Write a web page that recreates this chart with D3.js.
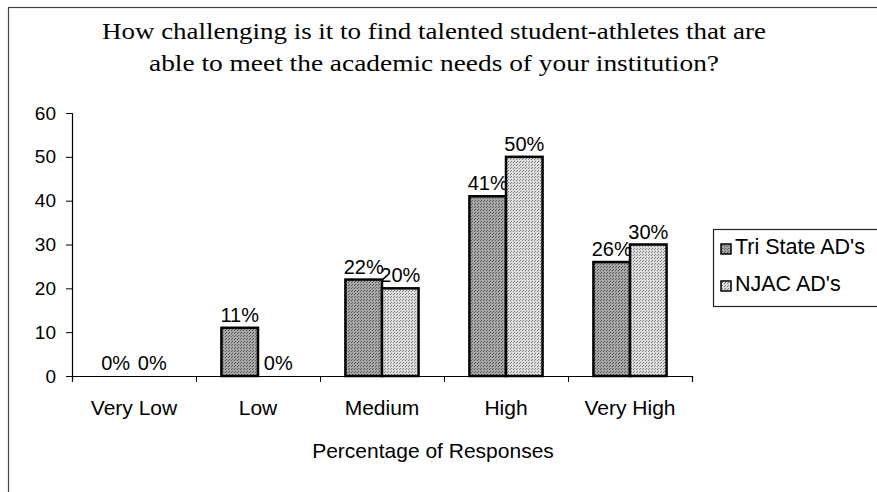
<!DOCTYPE html>
<html>
<head>
<meta charset="utf-8">
<script src="https://cdnjs.cloudflare.com/ajax/libs/d3/7.8.5/d3.min.js"></script>
<style>
  body { margin: 0; background: #fff; }
  svg { display: block; }
</style>
</head>
<body>
<div class="board"></div>
<script>
var W = 877, H = 492
var margin = { top: 113, right: 185, bottom: 116, left: 72 }

const categories = ["Very Low", "Low", "Medium", "High", "Very High"]
const seriesNames = ["Tri State AD's", "NJAC AD's"]
const triState = [0, 11, 22, 41, 26]
const njac = [0, 0, 20, 50, 30]
const yTicks = [0, 10, 20, 30, 40, 50, 60]

const titleLines = [
    "How challenging is it to find talented student-athletes that are",
    "able to meet the academic needs of your institution?"
]
const titleWidths = [664, 570]

const SANS = "Liberation Sans, Arial, sans-serif"

var svg = d3.select(".board")
    .append("svg")
    .attr("width", W)
    .attr("height", H)

// dotted fills, like the halftone in the scan
var defs = svg.append("defs")
function dotPattern(id, bg, dot) {
    let p = defs.append("pattern")
        .attr("id", id)
        .attr("width", 3).attr("height", 3)
        .attr("patternUnits", "userSpaceOnUse")
    p.append("rect").attr("width", 3).attr("height", 3).attr("fill", bg)
    p.append("rect").attr("x", 0).attr("y", 0).attr("width", 1).attr("height", 1).attr("fill", dot)
    p.append("rect").attr("x", 1).attr("y", 2).attr("width", 1).attr("height", 1).attr("fill", dot)
}
dotPattern("darkDots", "#a6a6a6", "#5a5a5a")
dotPattern("lightDots", "#dcdcdc", "#808080")
const fills = ["url(#darkDots)", "url(#lightDots)"]

// outer frame (runs off the right and bottom edges)
svg.append("rect")
    .attr("x", 8.5).attr("y", 7.5)
    .attr("width", W + 20).attr("height", H + 20)
    .attr("fill", "none")
    .attr("stroke", "#444")
    .attr("stroke-width", 1.2)

svg.append("g").selectAll("text")
    .data(titleLines)
    .enter()
    .append("text")
    .attr("x", 434)
    .attr("y", (d, i) => 39 + i * 32)
    .attr("text-anchor", "middle")
    .attr("font-family", "Liberation Serif, Times New Roman, serif")
    .attr("font-size", 23.5)
    .attr("textLength", (d, i) => titleWidths[i])
    .attr("lengthAdjust", "spacingAndGlyphs")
    .text(d => d)

let x0 = d3.scaleBand()
    .domain(categories)
    .range([margin.left, W - margin.right])
    .paddingInner(0.41)
    .paddingOuter(0.205)

let x1 = d3.scaleBand()
    .domain([0, 1])
    .range([0, x0.bandwidth()])

let y = d3.scaleLinear()
    .domain([0, 60])
    .range([H - margin.bottom, margin.top])

// axes
let yAxis = svg.append("g")
    .attr("transform", `translate(${margin.left},0)`)
    .call(d3.axisLeft(y).tickValues(yTicks).tickSize(6).tickPadding(10))
yAxis.selectAll("text")
    .attr("font-family", SANS)
    .attr("font-size", 19)
    .attr("fill", "#000")

let xAxisScale = d3.scaleLinear().domain([0, categories.length]).range([margin.left, W - margin.right])
svg.append("g")
    .attr("transform", `translate(0,${y(0)})`)
    .call(d3.axisBottom(xAxisScale).ticks(5).tickSize(6).tickFormat(""))
svg.selectAll(".domain").attr("stroke", "#000").attr("stroke-width", 1.2)

svg.append("g").selectAll("text")
    .data(categories)
    .enter()
    .append("text")
    .attr("x", d => x0(d) + x0.bandwidth() / 2)
    .attr("y", y(0) + 39)
    .attr("text-anchor", "middle")
    .attr("font-family", SANS)
    .attr("font-size", 21)
    .text(d => d)

svg.append("text")
    .attr("x", 433)
    .attr("y", y(0) + 82)
    .attr("text-anchor", "middle")
    .attr("font-family", SANS)
    .attr("font-size", 21)
    .text("Percentage of Responses")

// bars
let series = [triState, njac]
series.forEach((values, s) => {
    let g = svg.append("g")
    g.selectAll("rect")
        .data(values.map((v, i) => ({ cat: categories[i], v: v })).filter(d => d.v > 0))
        .enter()
        .append("rect")
        .attr("x", d => x0(d.cat) + x1(s))
        .attr("y", d => y(d.v))
        .attr("width", x1.bandwidth())
        .attr("height", d => y(0) - y(d.v))
        .attr("fill", fills[s])
        .attr("stroke", "#000")
        .attr("stroke-width", 2.5)

    g.selectAll("text")
        .data(values)
        .enter()
        .append("text")
        .attr("x", (d, i) => x0(categories[i]) + x1(s) + x1.bandwidth() / 2 + (d == 0 && s == 1 && i > 0 ? 2 : 0))
        .attr("y", d => y(d) - 6)
        .attr("text-anchor", "middle")
        .attr("font-family", SANS)
        .attr("font-size", 20)
        .text(d => d + "%")
})

// legend
let legend = svg.append("g")
legend.append("rect")
    .attr("x", 713.5).attr("y", 229.5)
    .attr("width", 180).attr("height", 77)
    .attr("fill", "none")
    .attr("stroke", "#222")
    .attr("stroke-width", 1.2)

let items = legend.selectAll(".item")
    .data(seriesNames)
    .enter()
    .append("g")
    .attr("transform", (d, i) => `translate(721, ${249 + i * 37})`)
items.append("rect")
    .attr("x", 0).attr("y", -5)
    .attr("width", 10).attr("height", 10)
    .attr("fill", (d, i) => fills[i])
    .attr("stroke", "#000")
    .attr("stroke-width", 1.5)
items.append("text")
    .attr("x", 14)
    .attr("y", 5)
    .attr("font-family", SANS)
    .attr("font-size", 21.5)
    .text(d => d)
</script>
</body>
</html>
